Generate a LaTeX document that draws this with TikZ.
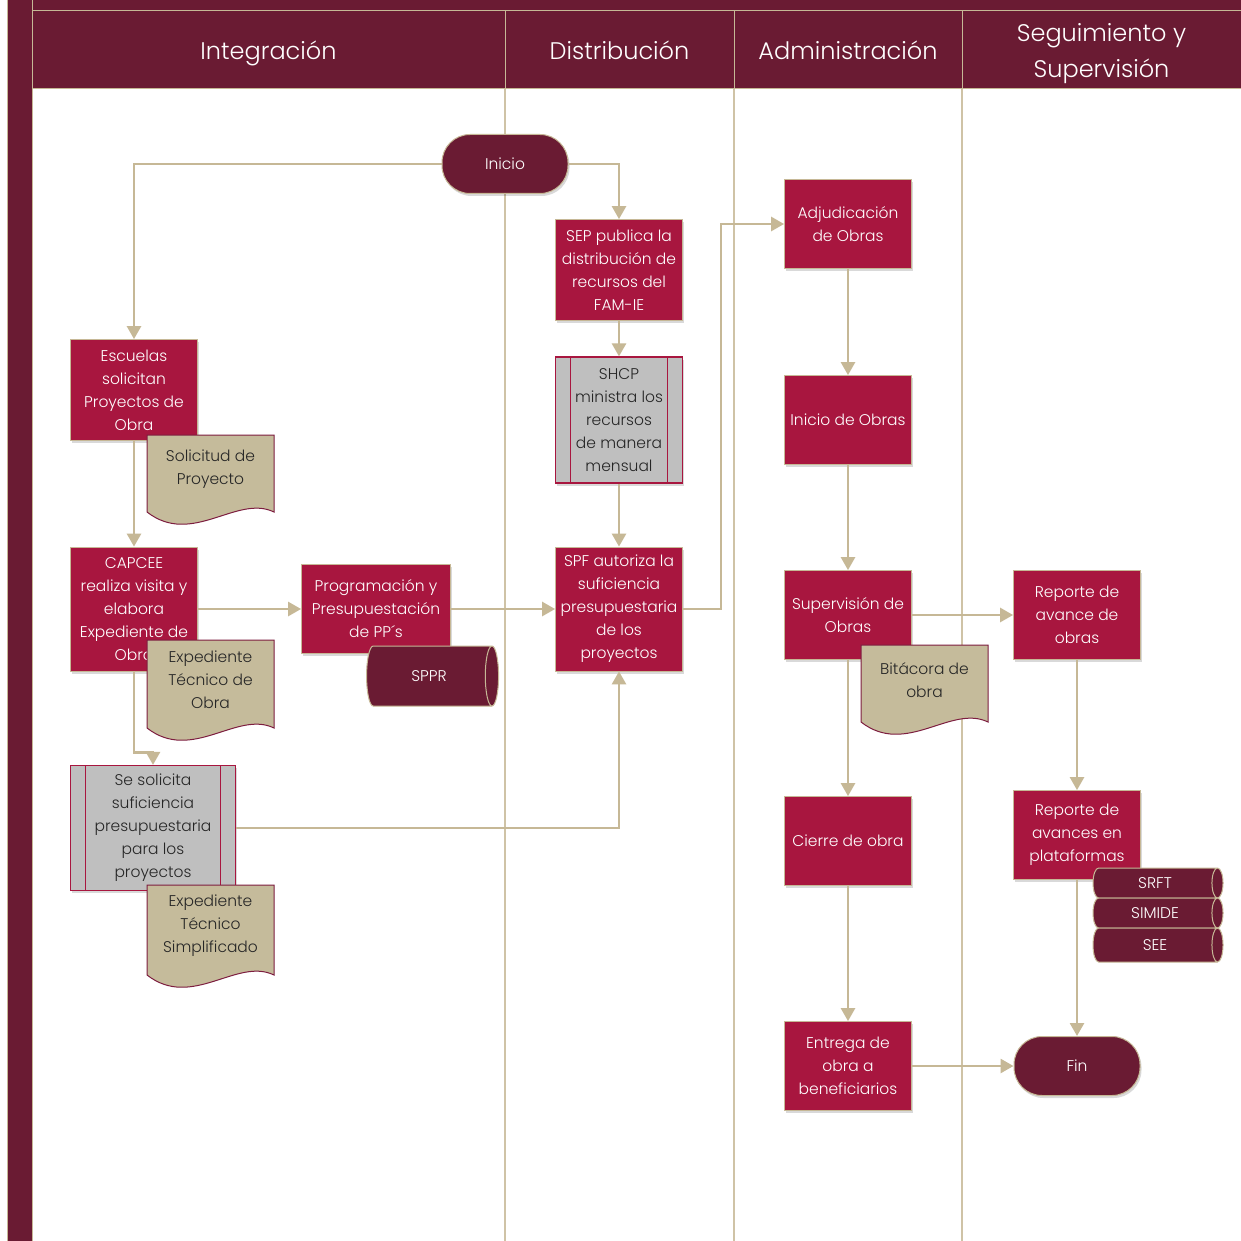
\documentclass[tikz,border=0pt]{standalone}
\usepackage{fontspec}
\setmainfont{Poppins}[UprightFont=* Light]
\usetikzlibrary{arrows.meta,calc,shapes.geometric,shadows}
\definecolor{lanecol}{HTML}{6A1B33}
\definecolor{boxred}{HTML}{A8163F}
\definecolor{tanline}{HTML}{C6B896}
\definecolor{docfill}{HTML}{C5BB9B}
\definecolor{docedge}{HTML}{7D1D3F}
\definecolor{grayfill}{HTML}{BFBFBF}
\newcommand{\boxfont}{\fontsize{15.5}{23}\selectfont}
\newcommand{\headfont}{\fontsize{24}{36}\selectfont}
% document sheet: name, left x, top y, side height, text
\newcommand{\docsheet}[5]{%
  \filldraw[docshape] (#2,#3) -- (#2+127,#3) -- (#2+127,#3+#4)
    .. controls (#2+90,#3+#4-18) and (#2+45,#3+#4+35) .. (#2,#3+#4) -- cycle;
  \node[doctext] (#1) at (#2+63.5,#3+0.45*#4) {#5};
}

\begin{document}
\begin{tikzpicture}[x=1pt, y=-1pt,
    proc/.style={draw=tanline, line width=0.8pt, fill=boxred, text=white, align=center,
                 font=\boxfont, minimum width=127pt, minimum height=89pt, inner sep=0pt,
                 drop shadow={shadow xshift=1.5pt, shadow yshift=-2.5pt, fill=black, opacity=0.15}},
    gproc/.style={proc, fill=grayfill, draw=boxred, line width=1.2pt, text=black!85,
                  path picture={
                    \draw[boxred, line width=1.2pt] ([xshift=15pt]path picture bounding box.north west) -- ([xshift=15pt]path picture bounding box.south west);
                    \draw[boxred, line width=1.2pt] ([xshift=-15pt]path picture bounding box.north east) -- ([xshift=-15pt]path picture bounding box.south east);}},
    term/.style={draw=tanline, line width=1pt, fill=lanecol, text=white, font=\boxfont,
                 rounded corners=28pt, minimum width=126pt, minimum height=59pt, inner sep=0pt,
                 drop shadow={shadow xshift=1.5pt, shadow yshift=-2.5pt, fill=black, opacity=0.15}},
    store/.style={shape=cylinder, draw=tanline, line width=1pt, cylinder uses custom fill,
                  cylinder body fill=lanecol, cylinder end fill=lanecol, text=white,
                  font=\boxfont, inner sep=0pt, aspect=1.2},
    docshape/.style={fill=docfill, draw=docedge, line width=1pt},
    doctext/.style={text=black!85, align=center, font=\boxfont, inner sep=0pt},
    lanehead/.style={draw=tanline, line width=1pt, fill=lanecol, text=white, font=\headfont,
                     align=center, minimum height=78pt, inner sep=0pt, text depth=0pt},
    lane/.style={draw=tanline!85, line width=1.4pt},
    arr/.style={-{Triangle[length=13pt,width=14pt]}, line width=2.6pt, color=tanline}
  ]
  \useasboundingbox (0,0) rectangle (1241,1241);
  \fill[white] (0,0) rectangle (1241,1241);
  % frame and lanes
  \fill[lanecol] (7,0) rectangle (1241,11);
  \filldraw[fill=lanecol, draw=tanline, line width=1pt] (7,0) rectangle (32,1241);
  \node[lanehead, minimum width=473pt] (hint) at (268.5,50) {Integración};
  \node[lanehead, minimum width=229pt] (hdist) at (619.5,50) {Distribución};
  \node[lanehead, minimum width=228pt] (hadm) at (848,50) {Administración};
  \node[lanehead, minimum width=279pt] (hseg) at (1101.5,50) {Seguimiento y\\Supervisión};
  \draw[lane] (505,89) -- (505,1241);
  \draw[lane] (734,89) -- (734,1241);
  \draw[lane] (962,89) -- (962,1241);

  % Integracion
  \node[term] (inicio) at (505,164) {Inicio};
  \node[proc, minimum height=101pt] (escuelas) at (134,390) {Escuelas\\solicitan\\Proyectos de\\Obra};
  \docsheet{solicitud}{147}{435}{77}{Solicitud de\\Proyecto}
  \node[proc, minimum height=124pt] (capcee) at (134,609) {CAPCEE\\realiza visita y\\elabora\\Expediente de\\Obra};
  \docsheet{expobra}{147}{640}{88}{Expediente\\Técnico de\\Obra}
  \node[proc, minimum width=149pt] (prog) at (376,609) {Programación y\\Presupuestación\\de PP´s};
  \node[store, minimum height=132pt, minimum width=60pt] (sppr) at (429,676) {SPPR};
  \node[gproc, minimum width=165pt, minimum height=125pt] (sesol) at (153,828) {Se solicita\\suficiencia\\presupuestaria\\para los\\proyectos};
  \docsheet{expsimp}{147}{885}{90}{Expediente\\Técnico\\Simplificado}

  % Distribucion
  \node[proc, minimum height=101pt] (sep) at (619,270) {SEP publica la\\distribución de\\recursos del\\FAM-IE};
  \node[gproc, minimum height=126pt] (shcp) at (619,420) {SHCP\\ministra los\\recursos\\de manera\\mensual};
  \node[proc, minimum height=124pt] (spf) at (619,609) {SPF autoriza la\\suficiencia\\presupuestaria\\de los\\proyectos};

  % Administracion
  \node[proc] (adj) at (848,224) {Adjudicación\\de Obras};
  \node[proc] (inobras) at (848,420) {Inicio de Obras};
  \node[proc] (superv) at (848,615) {Supervisión de\\Obras};
  \docsheet{bitacora}{861}{645}{77}{Bitácora de\\obra}
  \node[proc] (cierre) at (848,841) {Cierre de obra};
  \node[proc] (entrega) at (848,1066) {Entrega de\\obra a\\beneficiarios};

  % Seguimiento
  \node[proc] (rep1) at (1077,615) {Reporte de\\avance de\\obras};
  \node[proc] (rep2) at (1077,835) {Reporte de\\avances en\\plataformas};
  \node[store, minimum height=130pt, minimum width=30pt, aspect=1] (srft) at (1155,883) {SRFT};
  \node[store, minimum height=130pt, minimum width=30pt, aspect=1] (simide) at (1155,913) {SIMIDE};
  \node[store, minimum height=130pt, minimum width=34pt, aspect=1] (see) at (1155,945) {SEE};
  \node[term] (fin) at (1077,1066) {Fin};

  % connectors
  \draw[arr] (inicio.west) -| (escuelas.north);
  \draw[arr] (inicio.east) -| (sep.north);
  \draw[arr] (sep) -- (shcp);
  \draw[arr] (shcp) -- (spf);
  \draw[arr] (escuelas) -- (capcee);
  \draw[arr] (capcee) -- (prog);
  \draw[arr] (prog) -- (spf);
  \draw[arr] (capcee.south) -- ++(0,81) -| (sesol.north);
  \draw[arr] (sesol.east) -| (spf.south);
  \draw[arr] (spf.east) -- ++(38,0) |- (adj.west);
  \draw[arr] (adj) -- (inobras);
  \draw[arr] (inobras) -- (superv);
  \draw[arr] (superv) -- (cierre);
  \draw[arr] (cierre) -- (entrega);
  \draw[arr] (superv) -- (rep1);
  \draw[arr] (rep1) -- (rep2);
  \draw[arr] (rep2) -- (fin);
  \draw[arr] (entrega) -- (fin);
\end{tikzpicture}
\end{document}
